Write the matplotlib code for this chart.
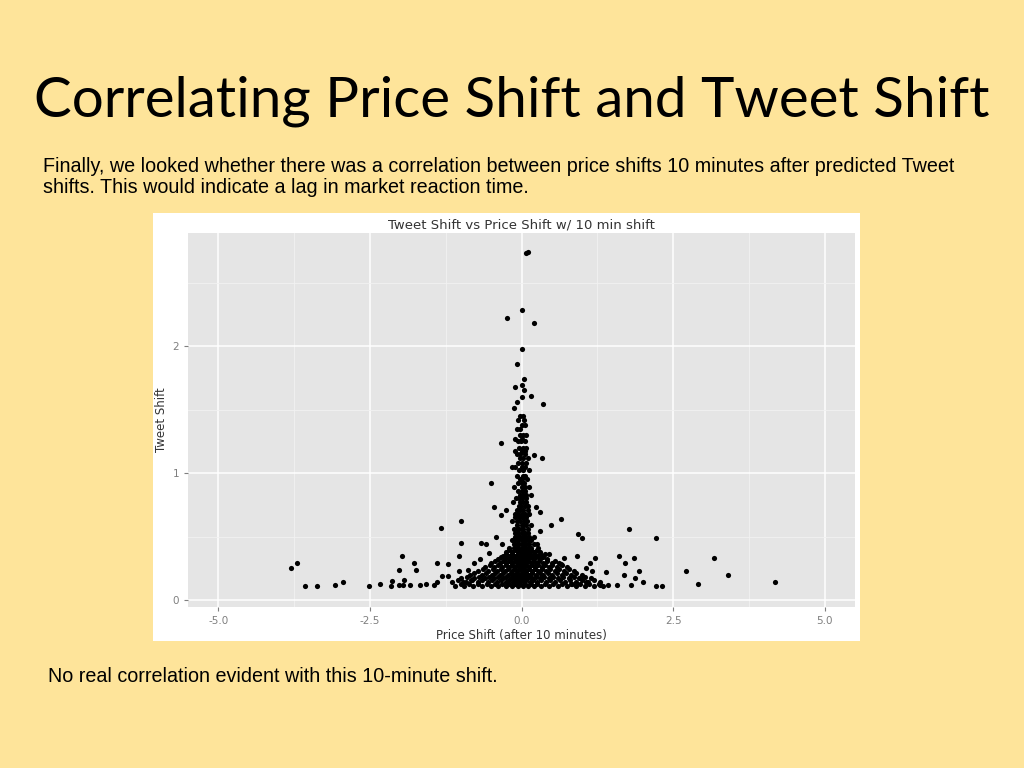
import matplotlib
matplotlib.use("Agg")
import matplotlib.pyplot as plt
from matplotlib.patches import Rectangle

# --- data ---
outlier_x = [0.10,0.07,0.0,-0.24,0.2,0.0,-0.07,0.04,-0.1,0.0,0.04,0.16,0.01,0.35,-0.07,-0.13,
             -0.34,0.34,0.2,-0.51,0.65,0.49,-0.99,-1.32,1.78,2.22,0.94,1.0,
             -0.99,-1.97,-1.77,-1.39,-1.21,-2.02,-1.74,
             -3.7,-3.8,-3.57,-3.37,-3.08,-2.94,-2.51,-2.33,-2.14,-2.15,-2.02,-1.96,-1.93,-1.84,-1.68,-1.57,-1.44,-1.39,-1.31,-1.22,-1.03,-1.03,
             1.61,1.86,1.71,1.94,1.69,2.01,1.87,2.22,2.31,2.72,2.91,3.18,3.4,4.18,
             1.21,1.13,0.91,0.7,0.65,1.06,1.17,1.4,1.3,1.43,1.58,1.81,1.06,0.84,0.46,0.39,0.3,0.24,0.3,
             -0.45,-0.34,-0.25,-0.42,-0.66,-0.58,-0.32,-0.54,-0.79,-0.69,-0.88,-0.96,-0.81]
outlier_y = [2.74,2.73,2.28,2.22,2.18,1.98,1.86,1.74,1.68,1.69,1.65,1.61,1.6,1.54,1.56,1.51,
             1.24,1.12,1.14,0.92,0.64,0.59,0.62,0.57,0.56,0.49,0.52,0.49,
             0.45,0.35,0.29,0.29,0.28,0.24,0.24,
             0.29,0.25,0.11,0.11,0.12,0.14,0.11,0.13,0.15,0.11,0.12,0.12,0.16,0.12,0.12,0.13,0.12,0.14,0.19,0.19,0.23,0.35,
             0.35,0.33,0.29,0.23,0.2,0.14,0.17,0.11,0.11,0.23,0.13,0.33,0.2,0.14,
             0.33,0.29,0.35,0.33,0.28,0.25,0.23,0.22,0.12,0.12,0.12,0.12,0.14,0.13,0.36,0.36,0.54,0.73,0.69,
             0.73,0.67,0.71,0.5,0.45,0.44,0.44,0.37,0.29,0.32,0.24,0.14,0.16]

core_row_y = [1.45,1.42,1.38,1.35,1.3,1.27,1.25,1.2,1.17,1.15,1.12,1.08,1.05,1.02,0.98,0.95,0.92,0.89,
              0.86,0.83,0.8,0.77,0.74,0.71,0.68,0.65,0.62,0.59,0.56,0.53,0.5,0.47,0.44,0.41]
core_row_x = [[-0.03,0.02],[-0.05,0.04],[0.0,0.06],[-0.08,-0.02],[-0.02,0.03,0.07],[-0.1,0.01],[0.05,-0.06,-0.01],
              [-0.04,0.02,0.08],[-0.11,0.0,0.05],[0.06,-0.07,-0.02],[-0.02,0.1,0.03],[-0.05,0.07,0.01],[-0.15,-0.1,0.0,0.05],
              [-0.04,0.12,0.02],[-0.08,0.02,0.06],[0.0,0.09,-0.03],[-0.06,0.04,0.0],[0.12,-0.12,0.0,0.05],[-0.05,0.05,0.0],
              [0.02,-0.02,0.15,0.07],[-0.09,0.0,0.07,-0.04],[-0.14,0.03,-0.03,0.08],[-0.04,0.06,-0.01,0.1],[0.1,-0.08,0.02,-0.03],
              [0.0,-0.05,0.05,0.13,-0.1],[-0.1,0.03,0.08,-0.04,0.0],[-0.02,0.04,-0.15,0.09,-0.07],[0.0,0.07,-0.07,0.16,0.03],
              [-0.04,0.03,-0.12,0.1,0.0,-0.08],[0.0,0.06,-0.06,0.11,-0.1,0.03],[-0.1,0.02,0.12,-0.02,0.2,0.07,-0.06],
              [-0.05,0.05,0.15,-0.15,0.0,0.1,-0.1],
              [0.0,-0.08,0.08,0.2,0.25,-0.04,0.04,0.13,-0.13],[-0.12,0.03,0.1,-0.2,0.28,-0.05,0.0,0.06,0.16,-0.08]]

blob_row_y = [0.38,0.35,0.32,0.29,0.26,0.23,0.2,0.17,0.14,0.11]
blob_row_x = [[-0.25,-0.15,-0.06,0.0,0.05,0.12,0.2,0.3],
              [-0.3,-0.2,-0.1,-0.03,0.03,0.1,0.18,0.27,0.36],
              [-0.38,-0.27,-0.18,-0.09,-0.02,0.04,0.11,0.2,0.3,0.42],
              [-0.5,-0.36,-0.25,-0.15,-0.07,0.0,0.07,0.15,0.24,0.35,0.5,0.62],
              [-0.6,-0.45,-0.32,-0.2,-0.1,-0.03,0.04,0.12,0.22,0.33,0.45,0.58,0.75],
              [-0.72,-0.55,-0.4,-0.28,-0.16,-0.07,0.0,0.08,0.17,0.28,0.4,0.55,0.7,0.86],
              [-0.85,-0.65,-0.48,-0.35,-0.22,-0.12,-0.04,0.04,0.13,0.24,0.36,0.5,0.66,0.82,1.0],
              [-1.0,-0.78,-0.6,-0.45,-0.3,-0.18,-0.08,0.0,0.08,0.18,0.3,0.45,0.6,0.78,0.95,1.15],
              [-1.15,-0.92,-0.72,-0.55,-0.4,-0.26,-0.14,-0.05,0.04,0.14,0.26,0.4,0.55,0.72,0.9,1.1,1.3],
              [-1.1,-0.95,-0.8,-0.65,-0.5,-0.38,-0.26,-0.15,-0.06,0.02,0.1,0.2,0.32,0.45,0.6,0.75,0.9,1.05,1.2,1.35]]

fill_row_y = [0.395,0.365,0.335,0.305,0.275,0.245,0.215,0.185,0.155,0.125]
fill_row_x = [[-0.2,-0.1,-0.03,0.03,0.08,0.16,0.25],
              [-0.25,-0.15,-0.06,0.0,0.06,0.14,0.22,0.31],
              [-0.33,-0.22,-0.13,-0.05,0.01,0.07,0.15,0.24,0.35],
              [-0.43,-0.3,-0.2,-0.11,-0.04,0.03,0.1,0.19,0.29,0.42,0.56],
              [-0.52,-0.38,-0.26,-0.15,-0.06,0.0,0.08,0.17,0.27,0.39,0.51,0.66],
              [-0.64,-0.47,-0.34,-0.22,-0.12,-0.04,0.04,0.12,0.22,0.34,0.47,0.62,0.78],
              [-0.78,-0.58,-0.43,-0.3,-0.17,-0.08,0.0,0.08,0.18,0.3,0.43,0.58,0.74,0.9],
              [-0.9,-0.7,-0.53,-0.38,-0.25,-0.13,-0.04,0.04,0.13,0.24,0.37,0.52,0.68,0.86,1.05],
              [-1.05,-0.84,-0.65,-0.48,-0.34,-0.21,-0.1,-0.01,0.08,0.19,0.32,0.47,0.63,0.8,1.0,1.2],
              [-1.0,-0.87,-0.72,-0.57,-0.44,-0.32,-0.2,-0.1,-0.02,0.06,0.15,0.26,0.38,0.52,0.67,0.82,0.97,1.12,1.28]]

x_ticks = [-5.0, -2.5, 0.0, 2.5, 5.0]
y_ticks = [0, 1, 2]

xs = list(outlier_x)
ys = list(outlier_y)
for y, row in zip(core_row_y + blob_row_y + fill_row_y, core_row_x + blob_row_x + fill_row_x):
    xs += row
    ys += [y] * len(row)

bg = "#FEE49A"
fig = plt.figure(figsize=(10.24, 7.68), dpi=100, facecolor=bg)

fig.text(0.5, 0.868, "Correlating Price Shift and Tweet Shift", ha="center", va="center",
         fontsize=40.7, family="Lato", color="black")
fig.text(0.042, 0.770, "Finally, we looked whether there was a correlation between price shifts 10 minutes after predicted Tweet\nshifts. This would indicate a lag in market reaction time.",
         ha="left", va="center", fontsize=14.2, family="Liberation Sans", linespacing=1.12)
fig.text(0.047, 0.119, "No real correlation evident with this 10-minute shift.", ha="left", va="center",
         fontsize=14.2, family="Liberation Sans")

fig.patches.append(Rectangle((153/1024, 1-641/768), 707/1024, 428/768, transform=fig.transFigure,
                             facecolor="white", edgecolor="none", zorder=0))

ax = fig.add_axes([188/1024, 1-607/768, 667/1024, 374/768])
ax.set_zorder(2)
ax.set_facecolor("#E5E5E5")
for s in ax.spines.values():
    s.set_visible(False)
ax.set_xlim(-5.5, 5.5)
ax.set_ylim(-0.055, 2.89)
ax.set_xticks(x_ticks)
ax.set_xticklabels(["-5.0", "-2.5", "0.0", "2.5", "5.0"])
ax.set_yticks(y_ticks)
ax.set_xticks([-3.75, -1.25, 1.25, 3.75], minor=True)
ax.set_yticks([0.5, 1.5, 2.5], minor=True)
ax.grid(True, which="major", color="white", lw=1.1)
ax.grid(True, which="minor", color="#F2F2F2", lw=0.6)
ax.set_axisbelow(True)
ax.tick_params(which="major", colors="#7F7F7F", labelsize=7.5, length=3, labelcolor="#7F7F7F")
ax.tick_params(which="minor", length=0)
ax.scatter(xs, ys, s=14, color="black", linewidths=0, zorder=3)
ax.set_title("Tweet Shift vs Price Shift w/ 10 min shift", fontsize=9.5, color="#333333", pad=3)
ax.set_xlabel("Price Shift (after 10 minutes)", fontsize=8.5, color="#333333", labelpad=2)
ax.set_ylabel("Tweet Shift", fontsize=8.5, color="#333333", labelpad=3)

fig.savefig("out.png", dpi=100, facecolor=bg)
